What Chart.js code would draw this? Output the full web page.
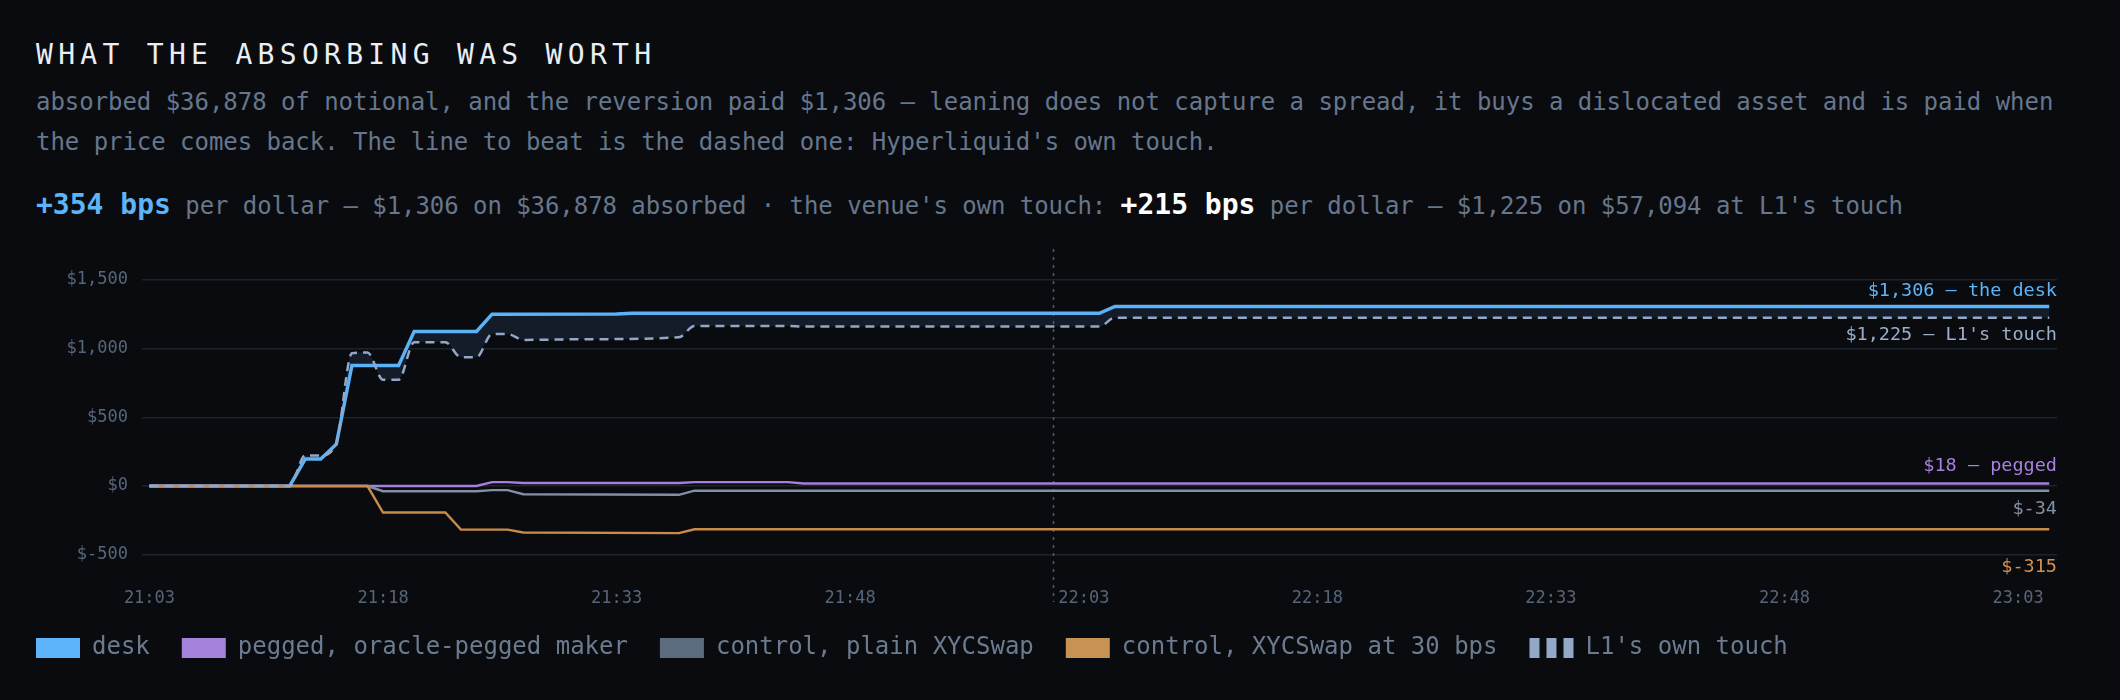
<!DOCTYPE html>
<html>
<head>
<meta charset="utf-8">
<script src="https://cdn.jsdelivr.net/npm/chart.js@4.4.1/dist/chart.umd.min.js"></script>
<style>
html, body { margin: 0; padding: 0; background: #0a0b0f; }
body { width: 2120px; height: 700px; position: relative; overflow: hidden; font-family: "DejaVu Sans Mono", monospace; }
.title { position: absolute; left: 36px; top: 41px; font-size: 28px; line-height: 28px; letter-spacing: 5.3px; color: #e9eef5; white-space: nowrap; }
.lede { position: absolute; left: 36px; top: 82px; font-size: 24px; line-height: 40px; letter-spacing: -0.04px; color: #66778d; white-space: nowrap; }
.stats { position: absolute; left: 36px; top: 185px; font-size: 24px; line-height: 40px; letter-spacing: -0.06px; color: #66778d; white-space: nowrap; }
.stats b { font-size: 28px; font-weight: bold; letter-spacing: 0; }
.blue { color: #5db4f8; }
.white { color: #ffffff; }
#wrap { position: absolute; left: 0; top: 240px; width: 2120px; height: 460px; }
</style>
</head>
<body>
<div class="title">WHAT THE ABSORBING WAS WORTH</div>
<div class="lede">absorbed $36,878 of notional, and the reversion paid $1,306 — leaning does not capture a spread, it buys a dislocated asset and is paid when<br>the price comes back. The line to beat is the dashed one: Hyperliquid's own touch.</div>
<div class="stats"><b class="blue">+354 bps</b> per dollar — $1,306 on $36,878 absorbed · the venue's own touch: <b class="white">+215 bps</b> per dollar — $1,225 on $57,094 at L1's touch</div>
<div id="wrap"><canvas id="pnlChart"></canvas></div>
<script>
const FONT = '"DejaVu Sans Mono", monospace';

// minutes after 21:03, cumulative P&L in dollars
const deskMin = [0, 9, 10, 11, 12, 13, 16, 17, 21, 22, 30, 31, 61, 62, 122];
const deskVal = [0, 0, 196, 196, 304, 877, 877, 1125, 1125, 1250, 1251, 1256, 1256, 1306, 1306];

const touchMin = [0, 9, 10, 11, 12, 13, 14, 15, 16, 17, 18, 19, 20, 21, 22, 23, 24, 28, 34, 35, 41, 42, 61, 62, 122];
const touchVal = [0, 0, 222, 222, 314, 966, 972, 773, 773, 1046, 1046, 1046, 937, 937, 1106, 1106, 1063, 1068, 1082, 1164, 1164, 1160, 1160, 1225, 1225];

const pegMin = [0, 21, 22, 23, 24, 34, 35, 41, 42, 122];
const pegVal = [0, 0, 28, 28, 22, 22, 28, 28, 18, 18];

const plainMin = [0, 14, 15, 21, 22, 23, 24, 34, 35, 122];
const plainVal = [0, 0, -38, -38, -30, -30, -60, -64, -34, -34];

const fee30Min = [0, 14, 15, 19, 20, 23, 24, 34, 35, 122];
const fee30Val = [0, 0, -193, -193, -317, -317, -338, -343, -315, -315];

const yTicks = [-500, 0, 500, 1000, 1500];
const xTickMin = [0, 15, 30, 45, 60, 75, 90, 105, 120];
const xTickLabels = ['21:03', '21:18', '21:33', '21:48', '22:03', '22:18', '22:33', '22:48', '23:03'];
const markerMin = 58;

const legendNames = ['desk', 'pegged, oracle-pegged maker', 'control, plain XYCSwap', 'control, XYCSwap at 30 bps', "L1's own touch"];

function pts(mins, vals) {
    return mins.map((m, i) => ({ x: m, y: vals[i] }));
}
function money(v) {
    return '$' + v.toLocaleString('en-US');
}
const last = a => a[a.length - 1];

// right-hand end labels
const endLabels = [
    { value: last(deskVal), text: money(last(deskVal)) + ' — the desk', color: '#5db4f8', dy: -15 },
    { value: last(touchVal), text: money(last(touchVal)) + " — L1's touch", color: '#9aafca', dy: 18 },
    { value: last(pegVal), text: money(last(pegVal)) + ' — pegged', color: '#a880de', dy: -17 },
    { value: last(plainVal), text: money(last(plainVal)), color: '#8390a2', dy: 18 },
    { value: last(fee30Val), text: money(last(fee30Val)), color: '#d2914f', dy: 38 }
];

const endLabelPlugin = {
    id: 'endLabelPlugin',
    afterDatasetsDraw(chart) {
        const { ctx, chartArea, scales } = chart;
        ctx.save();
        ctx.font = '18.5px ' + FONT;
        ctx.textAlign = 'right';
        ctx.textBaseline = 'middle';
        endLabels.forEach(l => {
            ctx.fillStyle = l.color;
            ctx.fillText(l.text, chartArea.right, scales.y.getPixelForValue(l.value) + l.dy);
        });
        ctx.restore();
    }
};

const markerPlugin = {
    id: 'markerPlugin',
    beforeDatasetsDraw(chart) {
        const { ctx, chartArea, scales } = chart;
        const x = Math.round(scales.x.getPixelForValue(markerMin)) + 0.5;
        ctx.save();
        ctx.strokeStyle = '#4e5c6e';
        ctx.lineWidth = 1.5;
        ctx.setLineDash([3, 5]);
        ctx.beginPath();
        ctx.moveTo(x, chartArea.top - 1);
        ctx.lineTo(x, chartArea.bottom + 28);
        ctx.stroke();
        ctx.restore();
    }
};

// the dashed legend key is three bars
const dashKeyPlugin = {
    id: 'dashKeyPlugin',
    afterDraw(chart) {
        const hb = chart.legend && chart.legend.legendHitBoxes[4];
        if (!hb) return;
        const ctx = chart.ctx;
        ctx.save();
        ctx.fillStyle = '#93a8c6';
        const top = hb.top + (hb.height - 20) / 2;
        for (let i = 0; i < 3; i++) {
            ctx.fillRect(hb.left + i * 17, top, 10, 20);
        }
        ctx.restore();
    }
};

Chart.defaults.font.family = FONT;

new Chart(document.getElementById('pnlChart'), {
    type: 'line',
    data: {
        datasets: [
            {
                label: "L1's own touch",
                data: pts(touchMin, touchVal),
                borderColor: '#93a8c6',
                borderWidth: 2.5,
                borderDash: [9, 6],
                cubicInterpolationMode: 'monotone',
                fill: { target: 4 },
                backgroundColor: '#131c28'
            },
            {
                label: 'control, XYCSwap at 30 bps',
                data: pts(fee30Min, fee30Val),
                borderColor: '#c98a4b',
                borderWidth: 2.4,
                fill: false
            },
            {
                label: 'control, plain XYCSwap',
                data: pts(plainMin, plainVal),
                borderColor: '#8190a2',
                borderWidth: 2.4,
                fill: false
            },
            {
                label: 'pegged, oracle-pegged maker',
                data: pts(pegMin, pegVal),
                borderColor: '#a57fdc',
                borderWidth: 2.4,
                fill: false
            },
            {
                label: 'desk',
                data: pts(deskMin, deskVal),
                borderColor: '#5cb2f7',
                borderWidth: 3.5,
                fill: false
            }
        ]
    },
    options: {
        responsive: true,
        maintainAspectRatio: false,
        animation: false,
        events: [],
        layout: { padding: { left: 4, right: 63, top: 10, bottom: 30 } },
        elements: { point: { radius: 0 }, line: { tension: 0 } },
        plugins: {
            filler: { drawTime: 'beforeDatasetsDraw' },
            tooltip: { enabled: false },
            legend: {
                position: 'bottom',
                align: 'start',
                labels: {
                    color: '#6b7b90',
                    font: { size: 24, family: FONT },
                    boxWidth: 44,
                    boxHeight: 20,
                    padding: 32,
                    generateLabels: function() {
                        const keyColors = ['#5db4fb', '#a482d9', '#5d6b7f', '#c99255', 'rgba(0,0,0,0)'];
                        return legendNames.map((name, i) => ({
                            text: name,
                            fillStyle: keyColors[i],
                            strokeStyle: keyColors[i],
                            lineWidth: 0,
                            fontColor: '#6b7b90',
                            hidden: false,
                            datasetIndex: 4 - i
                        }));
                    }
                }
            }
        },
        scales: {
            x: {
                type: 'linear',
                min: -0.48,
                max: 122.5,
                grid: { display: false },
                border: { display: false },
                afterBuildTicks: scale => { scale.ticks = xTickMin.map(v => ({ value: v })); },
                afterFit: scale => { scale.height = 30; scale.paddingLeft = 0; scale.paddingRight = 0; },
                ticks: {
                    color: '#56667a',
                    font: { size: 17 },
                    padding: 6,
                    autoSkip: false,
                    maxRotation: 0,
                    callback: v => xTickLabels[xTickMin.indexOf(v)]
                }
            },
            y: {
                min: -640,
                max: 1717,
                grid: { color: '#1d232c', lineWidth: 1.4, drawTicks: false },
                border: { display: false },
                afterBuildTicks: scale => { scale.ticks = yTicks.map(v => ({ value: v })); },
                afterFit: scale => { scale.width = 138; scale.paddingTop = 0; scale.paddingBottom = 0; },
                ticks: {
                    color: '#56667a',
                    font: { size: 17 },
                    padding: 14,
                    callback: v => money(v)
                }
            }
        }
    },
    plugins: [markerPlugin, endLabelPlugin, dashKeyPlugin]
});
</script>
</body>
</html>
